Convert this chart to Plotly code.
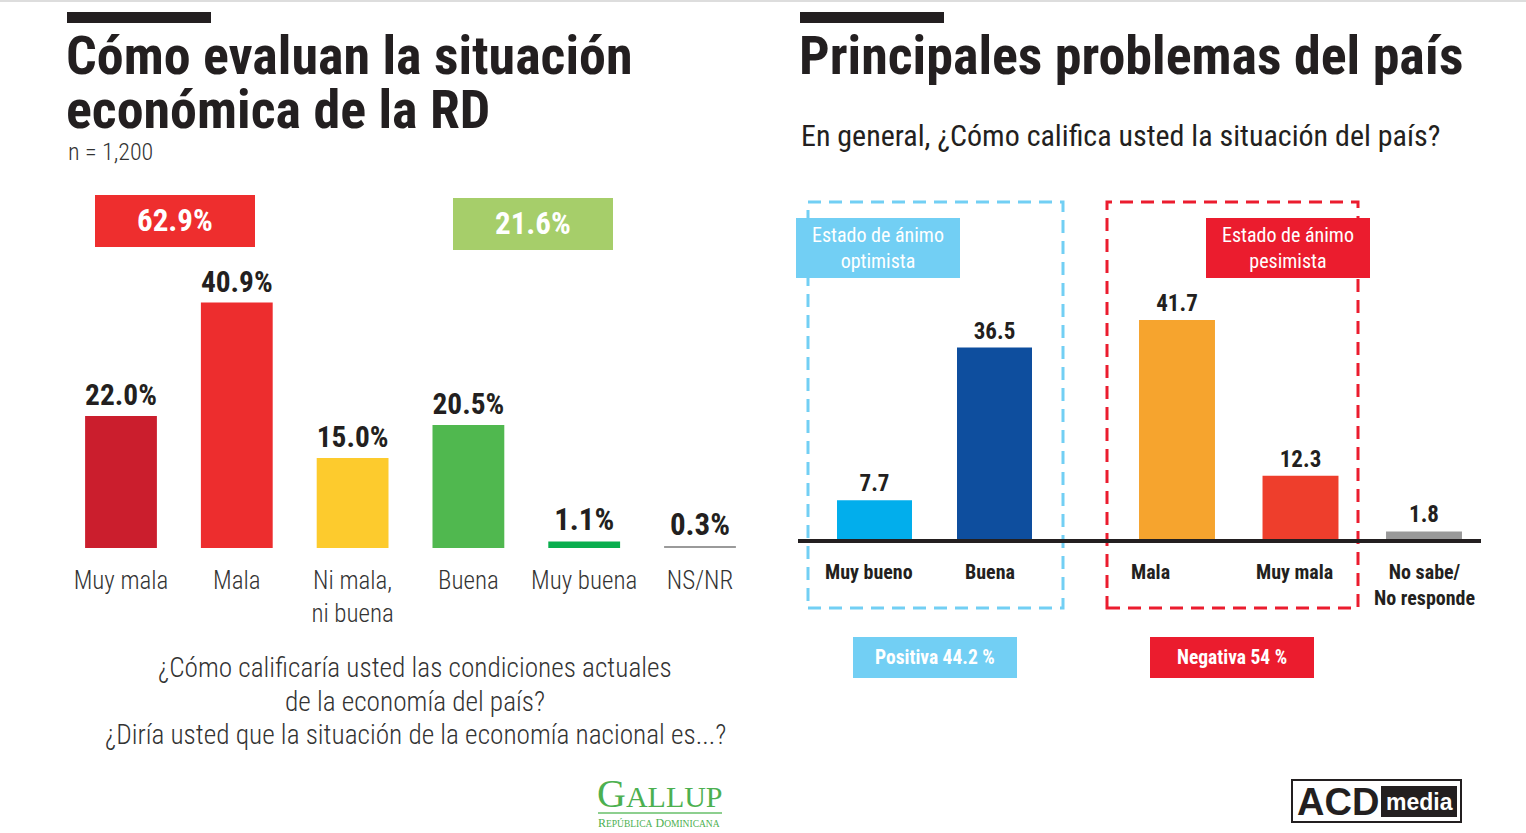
import plotly.graph_objects as go

W, H = 1526, 833


def X(px):
    return px / W


def Y(py):
    return 1 - py / H


# ---------------- data ----------------
left_categories = ["Muy mala", "Mala", "Ni mala,<br>ni buena", "Buena", "Muy buena", "NS/NR"]
left_values = [22.0, 40.9, 15.0, 20.5, 1.1, 0.3]
left_totals = ["62.9%", "21.6%"]

opt_categories = ["Muy bueno", "Buena"]
opt_values = [7.7, 36.5]
other_categories = ["Mala", "Muy mala", "No sabe/<br>No responde"]
other_values = [41.7, 12.3, 1.8]
right_totals = ["Positiva 44.2 %", "Negativa 54 %"]
right_groups = ["Estado de ánimo<br>optimista", "Estado de ánimo<br>pesimista"]

# ---------------- styles ----------------
COND = "'Liberation Sans Narrow', 'Arial Narrow', 'Roboto Condensed', Roboto, sans-serif"
SERIF = "'Liberation Serif', 'DejaVu Serif', serif"
left_colors = ["#CB1E2D", "#ED2D2E", "#FDCB2D", "#50B84F", "#0AAE4E", "#9A9A9A"]
opt_colors = ["#02AEEC", "#0E4E9E"]
other_colors = ["#F6A42E", "#EE3E2C", "#999999"]
opt_label_shift = [-5, -4]
other_label_shift = [-27, -6, 0]
LBLUE = "#72CFF4"
RED = "#EB1C2E"
INK = "#231F20"

fig = go.Figure()

fig.add_trace(go.Bar(
    x=left_categories, y=left_values, marker=dict(color=left_colors, line=dict(width=0)),
    width=0.62, text=[f"{v:.1f}%" for v in left_values], textposition="outside",
    textfont=dict(family=COND, size=31, color=INK, weight="bold"), cliponaxis=False,
    xaxis="x", yaxis="y", hoverinfo="skip", showlegend=False,
))
fig.add_trace(go.Bar(
    x=opt_categories, y=opt_values, marker=dict(color=opt_colors, line=dict(width=0)),
    width=0.625, text=[f"{v}" for v in opt_values], textposition="outside",
    textfont=dict(family=COND, size=23, color=INK, weight="bold"), cliponaxis=False,
    xaxis="x2", yaxis="y2", hoverinfo="skip", showlegend=False,
))
fig.add_trace(go.Bar(
    x=other_categories, y=other_values, marker=dict(color=other_colors, line=dict(width=0)),
    width=0.615, text=[f"{v}" for v in other_values], textposition="outside",
    textfont=dict(family=COND, size=23, color=INK, weight="bold"), cliponaxis=False,
    xaxis="x3", yaxis="y2", hoverinfo="skip", showlegend=False,
))

tick_left = dict(family=COND, size=25, color="#333333", weight=300)
tick_right = dict(family=COND, size=20, color=INK, weight="bold")

fig.update_layout(
    width=W, height=H, margin=dict(l=0, r=0, t=0, b=0),
    paper_bgcolor="white", plot_bgcolor="rgba(0,0,0,0)",
    xaxis=dict(domain=[X(63.1), X(757.9)], range=[-0.5, 5.5], type="category",
               showgrid=False, zeroline=False, showline=False, ticks="",
               tickfont=tick_left, ticklabelstandoff=15, anchor="y", fixedrange=True),
    yaxis=dict(domain=[Y(548), Y(248)], range=[0, 50], visible=False, anchor="x"),
    xaxis2=dict(domain=[X(814.5), X(1054.5)], range=[-0.5, 1.5], type="category",
                showgrid=False, zeroline=False, showline=False, ticks="",
                showticklabels=False, anchor="y2"),
    xaxis3=dict(domain=[X(1115.25), X(1485.75)], range=[-0.5, 2.5], type="category",
                showgrid=False, zeroline=False, showline=False, ticks="",
                showticklabels=False, anchor="y2"),
    yaxis2=dict(domain=[Y(541), Y(276)], range=[0, 50], visible=False, anchor="x2"),
)

shapes = []
annotations = []


def rect(x0, y0, x1, y1, fill=None, line_color=None, lw=0, dash=None):
    d = dict(type="rect", xref="paper", yref="paper", x0=X(x0), x1=X(x1), y0=Y(y1), y1=Y(y0))
    d["fillcolor"] = fill if fill else "rgba(0,0,0,0)"
    ln = dict(width=lw)
    if line_color:
        ln["color"] = line_color
    if dash:
        ln["dash"] = dash
    d["line"] = ln
    shapes.append(d)


def text(px, py, s, size, color=INK, weight="normal", xanchor="left", yanchor="middle",
         family=COND):
    annotations.append(dict(
        xref="paper", yref="paper", x=X(px), y=Y(py), text=s, showarrow=False,
        xanchor=xanchor, yanchor=yanchor, align="center" if xanchor == "center" else "left",
        font=dict(family=family, size=size, color=color, weight=weight),
    ))


# top thin border
shapes.append(dict(type="line", xref="paper", yref="paper", x0=0, x1=1, y0=Y(1), y1=Y(1),
                   line=dict(color="#DDDDDD", width=2)))

# ---------- left panel ----------
rect(67, 12, 211, 23, fill=INK)
text(64, 56, "Cómo evaluan la situación", 54, weight="bold")
text(64, 109, "económica de la RD", 54, weight="bold")
text(66, 152, "n = 1,200", 24, color="#333333", weight=300)

rect(95, 195, 255, 247, fill="#EE2E2E")
text(175, 220, left_totals[0], 31, color="white", weight="bold", xanchor="center")
rect(453, 198, 613, 250, fill="#A6CE6A")
text(533, 223, left_totals[1], 31, color="white", weight="bold", xanchor="center")

q_lines = ["¿Cómo calificaría usted las condiciones actuales",
           "de la economía del país?",
           "¿Diría usted que la situación de la economía nacional es...?"]
for i, ln in enumerate(q_lines):
    text(415, 668 + 33.5 * i, ln, 27.3, color="#333333", xanchor="center", weight=300)

# GALLUP logo
annotations.append(dict(
    xref="paper", yref="paper", x=X(660), y=Y(793), showarrow=False, xanchor="center",
    yanchor="middle",
    text="<span style='font-size:40px'>G</span>ALLUP",
    font=dict(family=SERIF, size=30, color="#4CB050"),
))
shapes.append(dict(type="line", xref="paper", yref="paper", x0=X(598), x1=X(722),
                   y0=Y(813), y1=Y(813), line=dict(color="#8DCF8F", width=2)))
text(659, 823, "R<span style='font-size:9.5px'>EPÚBLICA</span> D<span style='font-size:9.5px'>OMINICANA</span>",
     12, color="#4CB050", xanchor="center", family=SERIF)

# ---------- right panel ----------
rect(800, 12, 944, 23, fill=INK)
text(797, 56, "Principales problemas del país", 54, weight="bold")
text(799, 136, "En general, ¿Cómo califica usted la situación del país?", 30, color=INK)

# dashed group boxes
rect(808, 202, 1063, 608, line_color=LBLUE, lw=3, dash="13px,8px")
rect(1107, 202, 1358, 608, line_color=RED, lw=3, dash="13px,8px")

# baseline
shapes.append(dict(type="line", xref="paper", yref="paper", x0=X(798), x1=X(1481),
                   y0=Y(541), y1=Y(541), line=dict(color=INK, width=4)))

# category labels of the right panel (placed under each bar)
for ax, cats, shifts in (("x2", opt_categories, opt_label_shift),
                         ("x3", other_categories, other_label_shift)):
    for c, s in zip(cats, shifts):
        annotations.append(dict(
            xref=ax, yref="paper", x=c, y=Y(558), text=c, showarrow=False,
            xanchor="center", yanchor="top", align="center", xshift=s,
            font=tick_right,
        ))

# group labels
rect(796, 218, 960, 278, fill=LBLUE)
text(878, 248, right_groups[0], 20, color="white", xanchor="center")
rect(1206, 218, 1370, 278, fill=RED)
text(1288, 248, right_groups[1], 20, color="white", xanchor="center")

# totals
rect(853, 637, 1017, 678, fill=LBLUE)
text(935, 657.5, right_totals[0], 19.5, color="white", xanchor="center", weight="bold")
rect(1150, 637, 1314, 678, fill=RED)
text(1232, 657.5, right_totals[1], 19.5, color="white", xanchor="center", weight="bold")

# ACD media logo
rect(1292, 780, 1461, 822, fill="white", line_color=INK, lw=2)
rect(1381, 786, 1457, 817, fill=INK)
text(1338, 802, "ACD", 38, color=INK, weight="bold", xanchor="center",
     family="'Liberation Sans', Arial, sans-serif")
text(1419, 802, "media", 23, color="white", weight="bold", xanchor="center",
     family="'Liberation Sans Narrow', 'Liberation Sans', Arial, sans-serif")

fig.update_layout(shapes=shapes, annotations=annotations)

fig.write_html("out.html")
